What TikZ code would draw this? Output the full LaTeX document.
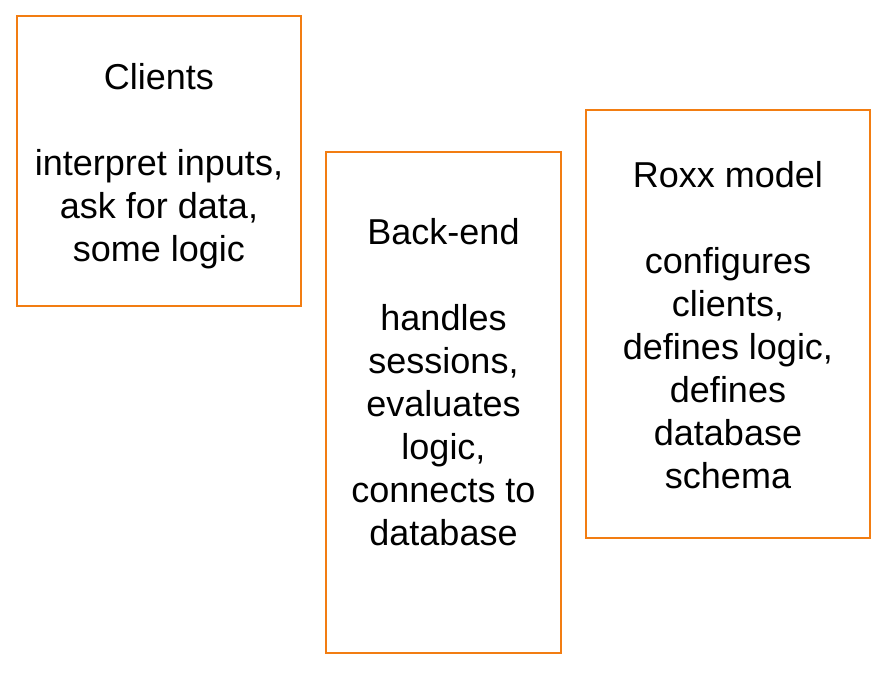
\documentclass[tikz,border=0pt]{standalone}
\usepackage{fontspec}
\setmainfont{Liberation Sans}
\definecolor{boxorange}{RGB}{242,125,18}
\tikzset{
  part/.style = {draw = boxorange, line width = 1.6pt, inner sep = 0pt},
  desc/.style = {align = center, font = \fontsize{36}{43}\selectfont}
}
\begin{document}
\begin{tikzpicture}[x = 1pt, y = -1pt]
        \useasboundingbox (0, 0) rectangle (886, 675);
        % the three parts
        \node[part, minimum width = 284pt, minimum height = 290pt] (clients) at (159, 161) {};
        \node[part, minimum width = 235pt, minimum height = 501pt] (backend) at (443.5, 402.5) {};
        \node[part, minimum width = 284pt, minimum height = 428pt] (roxx) at (728, 324) {};
        % what each part does
        \node[desc] (clientstext) at ([yshift = -5pt] clients.center) {Clients\\[43pt] interpret inputs,\\ ask for data,\\ some logic};
        \node[desc, anchor = north] (backendtext) at ([yshift = -64pt] backend.north) {Back-end\\[43pt] handles\\ sessions,\\ evaluates\\ logic,\\ connects to\\ database};
        \node[desc] (roxxtext) at ([yshift = -1pt] roxx.center) {Roxx model\\[43pt] configures\\ clients,\\ defines logic,\\ defines\\ database\\ schema};
  \end{tikzpicture}
\end{document}
